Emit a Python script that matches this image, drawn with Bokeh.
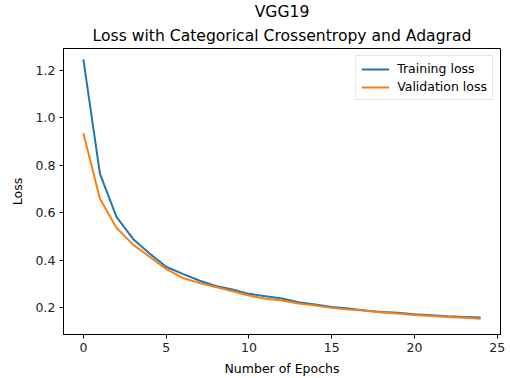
from bokeh.plotting import figure
from bokeh.models import Range1d, FixedTicker, Legend, LegendItem, Title, CustomJSTickFormatter
from bokeh.embed import file_html
from bokeh.resources import INLINE

# Loss per epoch
epochs = list(range(25))
train_loss = [1.245, 0.765, 0.583, 0.490, 0.429, 0.373, 0.343, 0.315, 0.292, 0.277,
              0.259, 0.249, 0.239, 0.224, 0.214, 0.204, 0.197, 0.189, 0.183, 0.179,
              0.173, 0.169, 0.165, 0.162, 0.159]
val_loss = [0.935, 0.659, 0.537, 0.466, 0.415, 0.364, 0.326, 0.305, 0.288, 0.270,
            0.252, 0.238, 0.231, 0.218, 0.210, 0.200, 0.193, 0.189, 0.181, 0.176,
            0.170, 0.166, 0.162, 0.158, 0.154]
x_ticks = [0, 5, 10, 15, 20, 25]
y_ticks = [0.2, 0.4, 0.6, 0.8, 1.0, 1.2]

FONT = "DejaVu Sans"

p = figure(width=510, height=378, output_backend="svg", toolbar_location=None,
           x_range=Range1d(-1.2, 25.2), y_range=Range1d(0.088, 1.291),
           min_border_left=63, min_border_right=10, min_border_top=6, min_border_bottom=8)
p.title = None
p.add_layout(Title(text="Loss with Categorical Crossentropy and Adagrad", align="center",
                   text_font=FONT, text_font_size="15.6px", text_font_style="normal",
                   text_color="#000000", offset=0, standoff=8), "above")
p.add_layout(Title(text="VGG19", align="center",
                   text_font=FONT, text_font_size="15.6px", text_font_style="normal",
                   text_color="#000000", standoff=0), "above")

p.xgrid.visible = False
p.ygrid.visible = False
p.outline_line_color = "#000000"
p.outline_line_width = 1
p.background_fill_color = "white"
p.border_fill_color = "white"

for ax in (p.xaxis[0], p.yaxis[0]):
    ax.axis_line_color = "#000000"
    ax.major_tick_line_color = "#000000"
    ax.major_tick_out = 4
    ax.major_tick_in = 0
    ax.minor_tick_line_color = None
    ax.major_label_text_font = FONT
    ax.major_label_text_font_size = "12.5px"
    ax.major_label_text_color = "#222222"
    ax.axis_label_text_font = FONT
    ax.axis_label_text_font_size = "12.5px"
    ax.axis_label_text_font_style = "normal"
    ax.axis_label_text_color = "#000000"

p.xaxis.ticker = FixedTicker(ticks=x_ticks)
p.yaxis.ticker = FixedTicker(ticks=y_ticks)
p.yaxis.formatter = CustomJSTickFormatter(code="return tick.toFixed(1);")
p.xaxis.axis_label = "Number of Epochs"
p.yaxis.axis_label = "Loss"
p.xaxis.axis_label_standoff = 6
p.yaxis.axis_label_standoff = 8
p.xaxis.major_label_standoff = 4
p.yaxis.major_label_standoff = 4

r1 = p.line(epochs, train_loss, line_color="#1f77b4", line_width=2)
r2 = p.line(epochs, val_loss, line_color="#ff7f0e", line_width=2)

legend = Legend(items=[LegendItem(label="Training loss", renderers=[r1]),
                       LegendItem(label="Validation loss", renderers=[r2])],
                location="top_right",
                label_text_font=FONT, label_text_font_size="12.5px",
                label_text_color="#000000",
                border_line_color="#cccccc", border_line_width=1,
                background_fill_alpha=0.8,
                glyph_width=28, glyph_height=14, label_standoff=8,
                spacing=3, padding=5, margin=7, label_height=14)
p.add_layout(legend)

open("out.html", "w").write(file_html(p, INLINE))
